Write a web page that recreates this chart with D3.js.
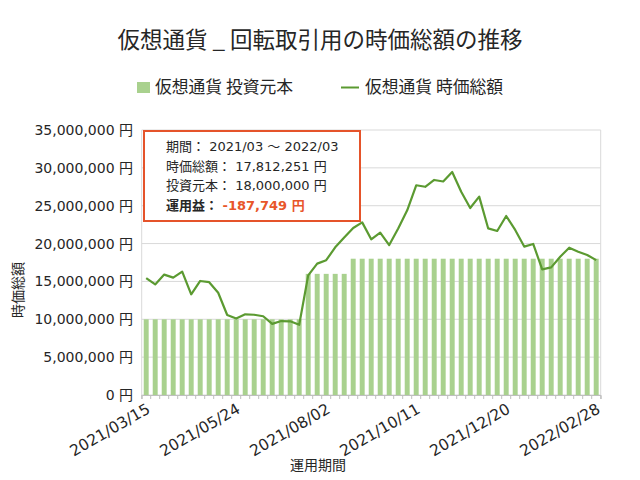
<!DOCTYPE html>
<html><head><meta charset="utf-8">
<script src="https://cdn.jsdelivr.net/npm/d3@7"></script>
<style>
html,body{margin:0;padding:0;background:#fff;}
svg{display:block;}
text{font-family:"DejaVu Sans","Noto Sans CJK JP",sans-serif;fill:#262626;}
.jp{font-family:"Noto Sans CJK JP",sans-serif;}
</style></head>
<body><svg id="c" width="640" height="480"></svg>
<script>
const categories = ["2021/03/15","2021/03/22","2021/03/29","2021/04/05","2021/04/12","2021/04/19","2021/04/26","2021/05/03","2021/05/10","2021/05/17",
"2021/05/24","2021/05/31","2021/06/07","2021/06/14","2021/06/21","2021/06/28","2021/07/05","2021/07/12","2021/07/19","2021/07/26",
"2021/08/02","2021/08/09","2021/08/16","2021/08/23","2021/08/30","2021/09/06","2021/09/13","2021/09/20","2021/09/27","2021/10/04",
"2021/10/11","2021/10/18","2021/10/25","2021/11/01","2021/11/08","2021/11/15","2021/11/22","2021/11/29","2021/12/06","2021/12/13",
"2021/12/20","2021/12/27","2022/01/03","2022/01/10","2022/01/17","2022/01/24","2022/01/31","2022/02/07","2022/02/14","2022/02/21",
"2022/02/28"];
const principal = [10000000,10000000,10000000,10000000,10000000,10000000,10000000,10000000,10000000,10000000,
10000000,10000000,10000000,10000000,10000000,10000000,10000000,10000000,16000000,16000000,
16000000,16000000,16000000,18000000,18000000,18000000,18000000,18000000,18000000,18000000,
18000000,18000000,18000000,18000000,18000000,18000000,18000000,18000000,18000000,18000000,
18000000,18000000,18000000,18000000,18000000,18000000,18000000,18000000,18000000,18000000,
18000000];
const marketValue = [15450000,14600000,15900000,15500000,16300000,13300000,15060000,14900000,13500000,10570000,
10100000,10650000,10600000,10400000,9400000,9770000,9730000,9270000,15800000,17350000,
17800000,19500000,20800000,22060000,22800000,20560000,21450000,19800000,22000000,24400000,
27700000,27500000,28400000,28200000,29450000,26850000,24700000,26200000,22000000,21660000,
23640000,21800000,19600000,19950000,16600000,16860000,18270000,19460000,18930000,18500000,
17812251];
const yTicks = [0,5000000,10000000,15000000,20000000,25000000,30000000,35000000];
const xLabelEvery = 10;
const titleText = "仮想通貨 _ 回転取引用の時価総額の推移";
const legendLabels = ["仮想通貨 投資元本","仮想通貨 時価総額"];
const boxLines = [["期間： ","2021/03 ～ 2022/03"],["時価総額： ","17,812,251 円"],["投資元本： ","18,000,000 円"],["運用益： ","-187,749 円"]];

const svg = d3.select("#c");
const L=141.7, R=600.7, T=130, B=395;
const x = d3.scaleBand().domain(d3.range(categories.length)).range([L,R]).paddingInner(0.45).paddingOuter(0.225);
const xb = d3.scaleBand().domain(d3.range(categories.length)).range([L,R]);
const y = d3.scaleLinear().domain([0,35000000]).range([B,T]);
const barColor="#a9d18e", lineColor="#5b9a31", boxColor="#e5532a";

// gridlines
svg.append("g").selectAll("line").data(yTicks).join("line")
  .attr("x1",L).attr("x2",R).attr("y1",d=>y(d)).attr("y2",d=>y(d))
  .attr("stroke","#d9d9d9").attr("stroke-width",1);
svg.append("line").attr("x1",R).attr("x2",R).attr("y1",T).attr("y2",B).attr("stroke","#d9d9d9");
svg.append("line").attr("x1",L).attr("x2",L).attr("y1",T).attr("y2",B).attr("stroke","#d9d9d9");

// bars
svg.append("g").selectAll("rect").data(principal).join("rect")
  .attr("x",(d,i)=>x(i)).attr("width",x.bandwidth())
  .attr("y",d=>y(d)).attr("height",d=>B-y(d)).attr("fill",barColor);

// x axis
const xAxis = d3.axisBottom(xb).tickSizeOuter(0).tickSize(4).tickFormat("");
const gx = svg.append("g").attr("transform",`translate(0,${B})`).call(xAxis);
gx.select(".domain").attr("stroke","#bfbfbf");
gx.selectAll(".tick line").attr("stroke","#bfbfbf").attr("transform",`translate(${-xb.bandwidth()/2},0)`);
svg.append("line").attr("x1",R).attr("x2",R).attr("y1",B).attr("y2",B+4).attr("stroke","#bfbfbf");
svg.append("g").selectAll("text").data(categories.filter((d,i)=>i%xLabelEvery===0)).join("text")
  .attr("transform",d=>{const i=categories.indexOf(d);return `translate(${xb(i)+xb.bandwidth()/2+5},${B+17}) rotate(-30)`;})
  .attr("text-anchor","end").attr("font-size",15.5).text(d=>d);

// y axis labels
svg.append("g").selectAll("text").data(yTicks).join("text")
  .attr("x",133).attr("y",d=>y(d)).attr("dy","0.36em").attr("text-anchor","end")
  .attr("font-size",14).text(d=>d3.format(",")(d)+" 円");

// line
svg.append("path").datum(marketValue)
  .attr("d",d3.line().x((d,i)=>xb(i)+xb.bandwidth()/2).y(d=>y(d)))
  .attr("fill","none").attr("stroke",lineColor).attr("stroke-width",2.2).attr("stroke-linejoin","round");

// titles
svg.append("text").attr("class","jp").attr("x",320).attr("y",48).attr("text-anchor","middle").attr("font-size",22.5).text(titleText);
svg.append("text").attr("class","jp").attr("transform","translate(23,290) rotate(-90)").attr("text-anchor","middle").attr("font-size",14).text("時価総額");
svg.append("text").attr("class","jp").attr("x",318).attr("y",470).attr("text-anchor","middle").attr("font-size",14).text("運用期間");

// legend
const lg = svg.append("g");
lg.append("rect").attr("x",137).attr("y",82).attr("width",13).attr("height",11).attr("fill",barColor);
lg.append("text").attr("class","jp").attr("x",155).attr("y",93).attr("font-size",16.8).text(legendLabels[0]);
lg.append("line").attr("x1",341).attr("x2",359).attr("y1",87.5).attr("y2",87.5).attr("stroke",lineColor).attr("stroke-width",2);
lg.append("text").attr("class","jp").attr("x",365).attr("y",93).attr("font-size",16.8).text(legendLabels[1]);

// annotation box
svg.append("rect").attr("x",144).attr("y",131).attr("width",216).attr("height",90)
  .attr("fill","#fff").attr("stroke",boxColor).attr("stroke-width",2);
const bt = svg.append("g");
boxLines.forEach((ln,k)=>{
  const t = bt.append("text").attr("x",166).attr("y",151+k*19.5).attr("font-size",13);
  const bold = k===3;
  t.append("tspan").attr("font-weight",bold?"bold":null).text(ln[0]);
  t.append("tspan").attr("font-weight",bold?"bold":null).style("fill",bold?"#e8562a":"#262626").text(ln[1]);
});
</script></body></html>
